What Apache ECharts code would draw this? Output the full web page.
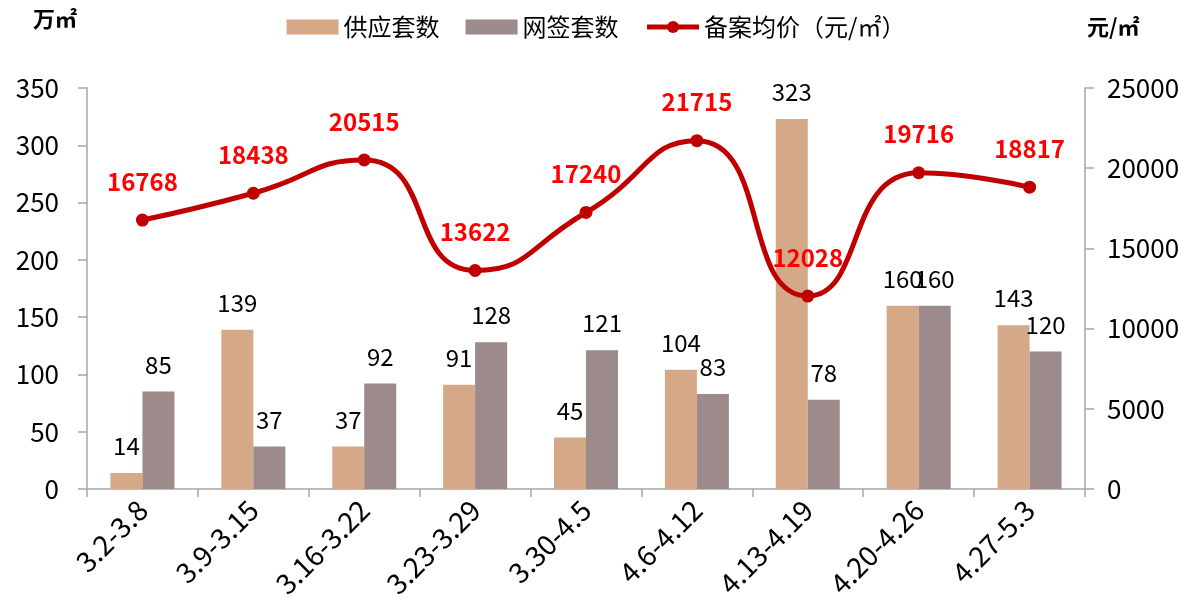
<!DOCTYPE html>
<html>
<head>
<meta charset="utf-8">
<script src="https://cdn.jsdelivr.net/npm/echarts@6/dist/echarts.min.js"></script>
<style>
  html, body { margin: 0; padding: 0; background: #fff; }
  #chart { width: 1192px; height: 615px; }
</style>
</head>
<body>
<div id="chart"></div>
<script>
const weeks = ['3.2-3.8', '3.9-3.15', '3.16-3.22', '3.23-3.29', '3.30-4.5', '4.6-4.12', '4.13-4.19', '4.20-4.26', '4.27-5.3'];
const supplyUnits = [14, 139, 37, 91, 45, 104, 323, 160, 143];
const signedUnits = [85, 37, 92, 128, 121, 83, 78, 160, 120];
const avgPrice = [16768, 18438, 20515, 13622, 17240, 21715, 12028, 19716, 18817];

const font = '"Noto Sans CJK SC", "Noto Sans", sans-serif';
const axisGray = '#A6A6A6';

const chart = echarts.init(document.getElementById('chart'));
chart.setOption({
  textStyle: { fontFamily: font },
  animation: false,
  legend: {
    top: 10,
    left: 'center',
    itemWidth: 52,
    itemHeight: 15,
    itemGap: 26,
    textStyle: { fontSize: 24, color: '#000', fontFamily: font },
    data: [
      { name: '供应套数', icon: 'rect' },
      { name: '网签套数', icon: 'rect' },
      { name: '备案均价（元/㎡）', lineStyle: { width: 5, color: '#C00000' } }
    ]
  },
  grid: { left: 87, right: 107, top: 88, bottom: 126 },
  xAxis: {
    type: 'category',
    data: weeks,
    axisLine: { lineStyle: { color: axisGray, width: 1.5 } },
    axisTick: { show: true, length: 8, lineStyle: { color: axisGray, width: 1.5 } },
    axisLabel: { rotate: 45, fontSize: 28, color: '#000', margin: 16, fontFamily: font }
  },
  yAxis: [
    {
      type: 'value',
      name: '万㎡',
      nameLocation: 'end',
      nameGap: 58,
      nameTextStyle: { fontSize: 22, fontWeight: 'bold', color: '#000', align: 'right', padding: [0, 10, 0, 0] },
      min: 0, max: 350, interval: 50,
      axisLine: { show: true, lineStyle: { color: axisGray, width: 1.5 } },
      axisTick: { show: true, length: 9, lineStyle: { color: axisGray, width: 1.5 } },
      axisLabel: { fontSize: 26, color: '#000', margin: 28, fontFamily: font },
      splitLine: { show: false }
    },
    {
      type: 'value',
      name: '元/㎡',
      nameLocation: 'end',
      nameGap: 50,
      nameTextStyle: { fontSize: 22, fontWeight: 'bold', color: '#000', align: 'left', padding: [0, 0, 0, 2] },
      min: 0, max: 25000, interval: 5000,
      axisLine: { show: true, lineStyle: { color: axisGray, width: 1.5 } },
      axisTick: { show: true, length: 9, lineStyle: { color: axisGray, width: 1.5 } },
      axisLabel: { fontSize: 26, color: '#000', margin: 22, fontFamily: font, formatter: v => String(v) },
      splitLine: { show: false }
    }
  ],
  series: [
    {
      name: '供应套数',
      type: 'bar',
      data: supplyUnits,
      barWidth: 32,
      barGap: '0%',
      itemStyle: { color: '#D5A888' },
      label: { show: true, position: 'top', distance: 15, fontSize: 24, color: '#000', fontFamily: font }
    },
    {
      name: '网签套数',
      type: 'bar',
      data: signedUnits,
      barWidth: 32,
      barGap: '0%',
      itemStyle: { color: '#9D8A8B' },
      label: { show: true, position: 'top', distance: 15, fontSize: 24, color: '#000', fontFamily: font }
    },
    {
      name: '备案均价（元/㎡）',
      type: 'line',
      yAxisIndex: 1,
      data: avgPrice,
      smooth: 0.55,
      symbol: 'circle',
      symbolSize: 13,
      lineStyle: { color: '#C00000', width: 5 },
      itemStyle: { color: '#C00000' },
      label: { show: true, position: 'top', distance: 20, fontSize: 24, fontWeight: 'bold', color: '#FF0000', fontFamily: font },
      z: 5
    }
  ]
});
</script>
</body>
</html>
